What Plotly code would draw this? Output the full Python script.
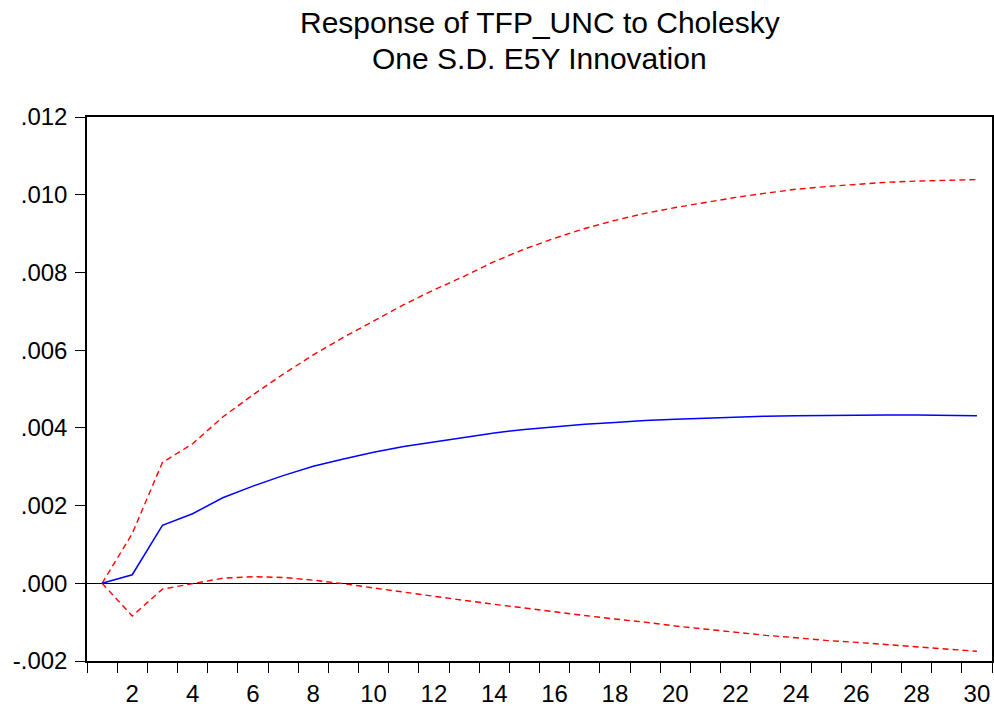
import plotly.graph_objects as go

periods = list(range(1, 31))

response = [0.0, 0.00022, 0.00149, 0.00179, 0.00220, 0.00250, 0.00277, 0.00301, 0.00320, 0.00337,
            0.00352, 0.00364, 0.00376, 0.00387, 0.00396, 0.00403, 0.00409, 0.00414, 0.00419, 0.00422,
            0.00425, 0.00428, 0.00430, 0.00431, 0.00432, 0.00433, 0.00433, 0.00433, 0.00432, 0.00431]

upper = [0.0, 0.00128, 0.00311, 0.00359, 0.00428, 0.00485, 0.00538, 0.00588, 0.00633, 0.00676,
         0.00717, 0.00755, 0.00790, 0.00828, 0.00860, 0.00888, 0.00913, 0.00934, 0.00952, 0.00967,
         0.00980, 0.00993, 0.01004, 0.01014, 0.01021, 0.01027, 0.01032, 0.01035, 0.01037, 0.01039]

lower = [0.0, -0.00084, -0.00015, 0.00000, 0.00013, 0.00017, 0.00015, 0.00008, -0.00001, -0.00012,
         -0.00023, -0.00034, -0.00044, -0.00054, -0.00064, -0.00074, -0.00083, -0.00092, -0.00100, -0.00110,
         -0.00118, -0.00126, -0.00134, -0.00140, -0.00147, -0.00152, -0.00158, -0.00163, -0.00169, -0.00175]

y_tickvals = [-0.002, 0.000, 0.002, 0.004, 0.006, 0.008, 0.010, 0.012]
y_ticktext = ["-.002", ".000", ".002", ".004", ".006", ".008", ".010", ".012"]
x_tickvals = list(range(2, 31, 2))
x_boundaries = [k + 0.5 for k in range(0, 31)]
title_lines = ["Response of TFP_UNC to Cholesky", "One S.D. E5Y Innovation"]

FONT = "Arial, Liberation Sans, sans-serif"
W, H = 994, 706
ML, MR, MT, MB = 87, 2, 117, 45
PH = H - MT - MB

fig = go.Figure()
fig.add_trace(go.Scatter(x=periods, y=upper, mode="lines",
                         line=dict(color="#ff0000", width=1.4, dash="6px,4px")))
fig.add_trace(go.Scatter(x=periods, y=lower, mode="lines",
                         line=dict(color="#ff0000", width=1.4, dash="6px,4px")))
fig.add_trace(go.Scatter(x=periods, y=response, mode="lines",
                         line=dict(color="#0000ff", width=1.5)))

title_y_px = [22, 58]
for txt, ypx in zip(title_lines, title_y_px):
    fig.add_annotation(text=txt, xref="paper", yref="paper",
                       x=0.5, y=1 + (MT - ypx) / PH, xanchor="center", yanchor="middle",
                       showarrow=False, font=dict(family=FONT, size=30, color="black"))

fig.update_layout(
    width=W, height=H,
    margin=dict(l=ML, r=MR, t=MT, b=MB, autoexpand=False),
    paper_bgcolor="white", plot_bgcolor="white",
    showlegend=False,
    font=dict(family=FONT, color="black"),
)

fig.update_xaxes(
    range=[0.5, 30.5], automargin=False,
    tickmode="array", tickvals=x_tickvals, ticktext=[str(v) for v in x_tickvals],
    ticks="outside", ticklen=10, tickcolor="rgba(0,0,0,0)",
    tickfont=dict(family=FONT, size=24, color="black"),
    minor=dict(tickmode="array", tickvals=x_boundaries, ticks="outside", ticklen=10,
               tickwidth=1.3, tickcolor="black", showgrid=False),
    showgrid=False, zeroline=False,
    showline=True, linecolor="black", linewidth=1.5, mirror=True,
)

fig.update_yaxes(
    range=[-0.002, 0.012], automargin=False,
    tickmode="array", tickvals=y_tickvals, ticktext=y_ticktext,
    ticks="outside", ticklen=10, tickwidth=1.3, tickcolor="black",
    ticklabelstandoff=3,
    tickfont=dict(family=FONT, size=24, color="black"),
    showgrid=False, zeroline=True, zerolinecolor="black", zerolinewidth=1,
    showline=True, linecolor="black", linewidth=1.5, mirror=True,
)

fig.write_html("out.html", config={"displayModeBar": False},
               post_script="document.body.style.margin='0';document.body.style.overflow='hidden';")
